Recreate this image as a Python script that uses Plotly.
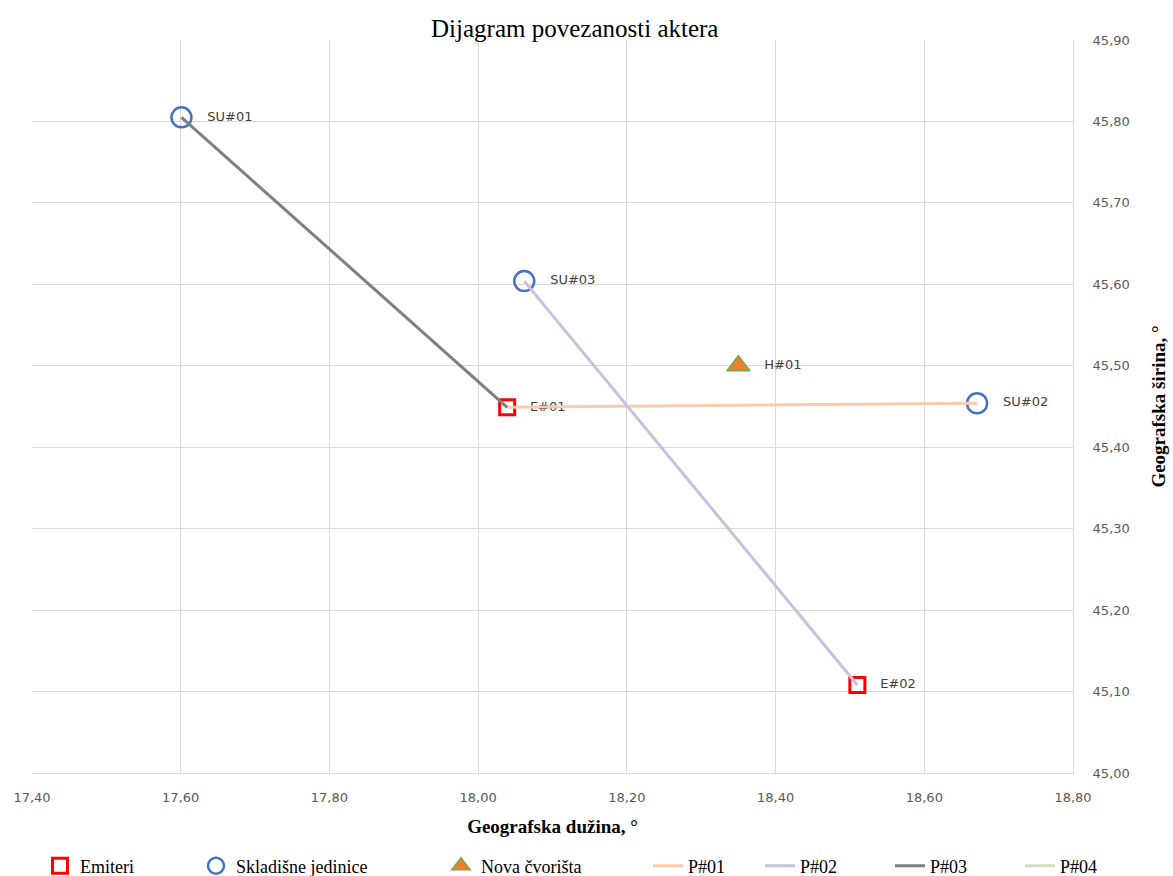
import plotly.graph_objects as go

# čvorovi (dužina, širina)
emiteri_lon = [18.039, 18.510]
emiteri_lat = [45.449, 45.108]
emiteri_lbl = ["E#01", "E#02"]

skladista_lon = [17.601, 18.671, 18.062]
skladista_lat = [45.805, 45.454, 45.604]
skladista_lbl = ["SU#01", "SU#02", "SU#03"]

cvorista_lon = [18.350]
cvorista_lat = [45.500]
cvorista_lbl = ["H#01"]

# veze
p01_lon = [18.039, 18.671]
p01_lat = [45.449, 45.454]
p02_lon = [18.062, 18.510]
p02_lat = [45.604, 45.108]
p03_lon = [17.601, 18.039]
p03_lat = [45.805, 45.449]
p04_lon = [None]
p04_lat = [None]

SERIF = "Liberation Serif, Times New Roman, serif"
SANS = "DejaVu Sans, sans-serif"
LABEL_FONT = dict(family=SANS, size=13, color="#404040")
W, H = 1173, 876

# x položaj (px) svake legende, jer Excel ih razmiče nejednako
legend_px = [40, 196, 441, 648, 760, 890, 1020]

fig = go.Figure()
fig.add_trace(go.Scatter(
    x=emiteri_lon, y=emiteri_lat, text=emiteri_lbl, name="Emiteri",
    mode="markers+text", textposition="middle right", textfont=LABEL_FONT,
    texttemplate="   %{text}",
    marker=dict(symbol="square-open", size=15, color="#FF0000", line=dict(width=3)),
))
fig.add_trace(go.Scatter(
    x=skladista_lon, y=skladista_lat, text=skladista_lbl, name="Skladišne jedinice",
    mode="markers+text", textposition="middle right", textfont=LABEL_FONT,
    texttemplate="   %{text}",
    marker=dict(symbol="circle-open", size=20, color="#4472C4", line=dict(width=2.5)),
))
fig.add_trace(go.Scatter(
    x=cvorista_lon, y=cvorista_lat, text=cvorista_lbl, name="Nova čvorišta",
    mode="markers+text", textposition="middle right", textfont=LABEL_FONT,
    texttemplate="   %{text}",
    marker=dict(symbol="triangle-up", size=20, color="#ED7D31",
                line=dict(color="#70AD47", width=1.5)),
))
for name, xs, ys, col in [
    ("P#01", p01_lon, p01_lat, "#F8CBAD"),
    ("P#02", p02_lon, p02_lat, "#C9C0E0"),
    ("P#03", p03_lon, p03_lat, "#7F7F7F"),
    ("P#04", p04_lon, p04_lat, "#DAD8C4"),
]:
    fig.add_trace(go.Scatter(x=xs, y=ys, name=name, mode="lines",
                             line=dict(color=col, width=3)))

legends = {}
for i, px in enumerate(legend_px):
    key = "legend" if i == 0 else f"legend{i + 1}"
    fig.data[i].legend = key
    fig.data[i].showlegend = True
    legends[key] = dict(
        orientation="h", xref="container", yref="container",
        x=px / W, xanchor="left", y=1 - 866 / H, yanchor="middle",
        font=dict(family=SERIF, size=18, color="#000"),
        bgcolor="rgba(0,0,0,0)",
    )

axis_common = dict(
    showgrid=True, gridcolor="#D9D9D9", gridwidth=1,
    showline=True, linecolor="#D9D9D9", linewidth=1,
    zeroline=False, tickformat=".2f", automargin=False,
    tickfont=dict(family=SANS, size=13, color="#595959"),
    ticks="",
)
fig.update_xaxes(
    range=[17.4, 18.8], dtick=0.2, tick0=17.4, ticklabelstandoff=12,
    title=dict(text="<b>Geografska dužina, °</b>", font=dict(family=SERIF, size=19, color="#000"),
               standoff=16),
    **axis_common,
)
fig.update_yaxes(
    range=[45.0, 45.9], dtick=0.1, tick0=45.0, side="right", ticklabelstandoff=16,
    title=dict(text="<b>Geografska širina, °</b>", font=dict(family=SERIF, size=19, color="#000"),
               standoff=22),
    **axis_common,
)
fig.update_layout(
    width=W, height=H,
    separators=", ",
    showlegend=True,
    plot_bgcolor="white", paper_bgcolor="white",
    margin=dict(l=32, r=100, t=40, b=103),
    title=dict(text="Dijagram povezanosti aktera", x=0.49, xanchor="center",
               y=1 - 28 / H, yanchor="middle",
               font=dict(family=SERIF, size=25, color="#000")),
    **legends,
)
fig.write_html("out.html", config={"displayModeBar": False},
               post_script="document.body.style.margin='0';")
